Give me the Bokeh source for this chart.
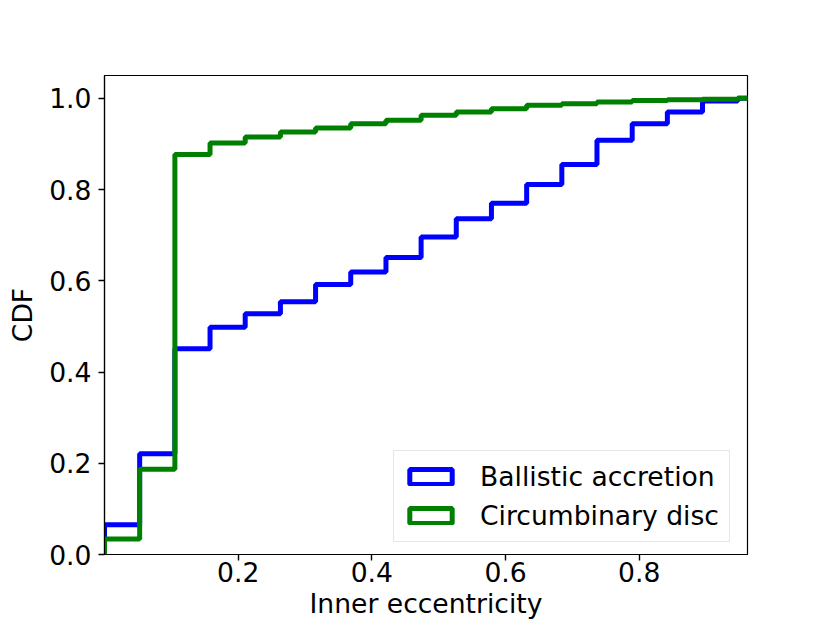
from bokeh.plotting import figure
from bokeh.models import Range1d, FixedTicker, PrintfTickFormatter, Legend, LegendItem
from bokeh.embed import file_html
from bokeh.resources import INLINE

# Bin edges (19 bins)
bin_edges = [0.0, 0.0526, 0.1053, 0.1579, 0.2105, 0.2632, 0.3158, 0.3684, 0.4211, 0.4737,
             0.5263, 0.5789, 0.6316, 0.6842, 0.7368, 0.7895, 0.8421, 0.8947, 0.9474, 1.0]

ballistic_cdf = [0.065, 0.221, 0.451, 0.498, 0.528, 0.554, 0.592, 0.619, 0.651, 0.696,
                 0.736, 0.770, 0.811, 0.855, 0.908, 0.944, 0.970, 0.994, 1.0]
circumbinary_cdf = [0.034, 0.187, 0.877, 0.902, 0.915, 0.926, 0.935, 0.944, 0.952, 0.963,
                    0.970, 0.977, 0.985, 0.988, 0.992, 0.995, 0.997, 0.998, 1.0]

series_names = ["Ballistic accretion", "Circumbinary disc"]
series_colors = ["#0000ff", "#008000"]

x_ticks = [0.2, 0.4, 0.6, 0.8]
y_ticks = [0.0, 0.2, 0.4, 0.6, 0.8, 1.0]

FONT = "DejaVu Sans"
FS = "26.6px"

p = figure(width=830, height=623, output_backend="svg", toolbar_location=None,
           x_range=Range1d(0.0, 0.962), y_range=Range1d(0.0, 1.05),
           min_border_left=104, min_border_right=83, min_border_top=75, min_border_bottom=69)
p.background_fill_color = "white"
p.border_fill_color = "white"
p.outline_line_color = "black"
p.outline_line_width = 1.2
p.xgrid.visible = False
p.ygrid.visible = False

for ax in (p.xaxis, p.yaxis):
    ax.axis_line_color = "black"
    ax.axis_line_width = 1.2
    ax.major_tick_line_color = "black"
    ax.major_tick_line_width = 1.4
    ax.major_tick_out = 6
    ax.major_tick_in = 0
    ax.minor_tick_line_color = None
    ax.major_label_text_font = FONT
    ax.major_label_text_font_size = FS
    ax.major_label_text_color = "black"
    ax.axis_label_text_font = FONT
    ax.axis_label_text_font_size = FS
    ax.axis_label_text_font_style = "normal"
    ax.axis_label_text_color = "black"

p.xaxis.major_label_standoff = 1
p.yaxis.major_label_standoff = 7
p.xaxis.ticker = FixedTicker(ticks=x_ticks)
p.yaxis.ticker = FixedTicker(ticks=y_ticks)
p.xaxis.formatter = PrintfTickFormatter(format="%.1f")
p.yaxis.formatter = PrintfTickFormatter(format="%.1f")
p.xaxis.axis_label = "Inner eccentricity"
p.yaxis.axis_label = "CDF"
p.xaxis.axis_label_standoff = 3
p.yaxis.axis_label_standoff = 8

nan = float("nan")
items = []
for name, color, vals in zip(series_names, series_colors, [ballistic_cdf, circumbinary_cdf]):
    xs = [bin_edges[0]] + list(bin_edges)
    ys = [0.0] + list(vals) + [vals[-1]]
    p.step(x=xs, y=ys, mode="after", line_color=color, line_width=5)
    handle = p.quad(left=[nan], right=[nan], top=[nan], bottom=[nan], fill_alpha=0,
                    fill_color="white", line_color=color, line_width=5)
    items.append(LegendItem(label=name, renderers=[handle]))

legend = Legend(items=items, location=(289, 12))
legend.label_text_font = FONT
legend.label_text_font_size = FS
legend.label_text_color = "black"
legend.glyph_width = 53
legend.glyph_height = 19
legend.label_height = 31
legend.label_standoff = 23
legend.spacing = 8
legend.padding = 10
legend.margin = 0
legend.border_line_color = "#cccccc"
legend.border_line_width = 1.3
legend.background_fill_alpha = 0.8
p.add_layout(legend)

open("out.html", "w").write(file_html(p, INLINE))
